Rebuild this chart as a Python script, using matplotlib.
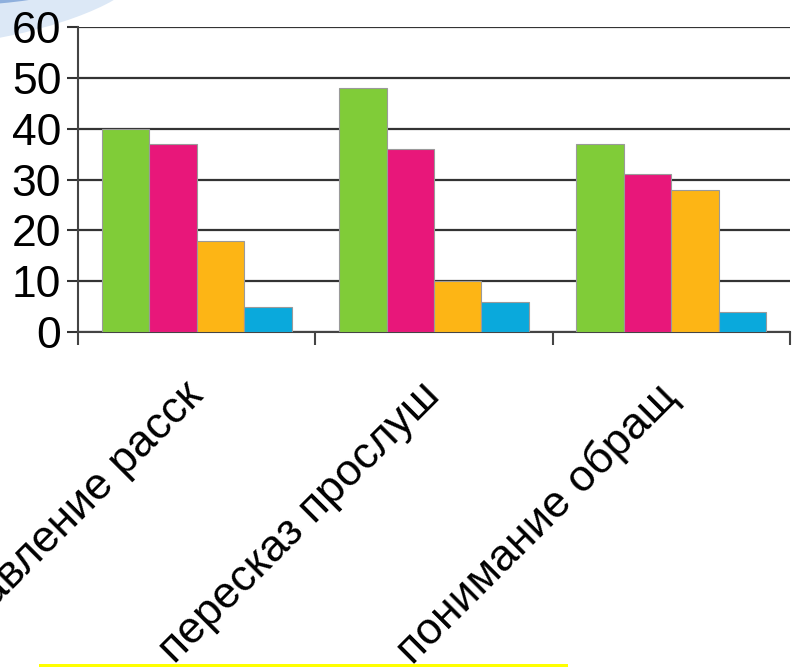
import numpy as np
import matplotlib.pyplot as plt
import matplotlib.transforms as mtransforms
from matplotlib.patches import Rectangle, Ellipse

plt.rcParams['font.family'] = ['Liberation Sans', 'DejaVu Sans']

categories = ['составление расск', 'пересказ прослуш', 'понимание обращ']
series_green = [40, 48, 37]
series_pink = [37, 36, 31]
series_orange = [18, 10, 28]
series_blue = [5, 6, 4]
y_ticks = [0, 10, 20, 30, 40, 50, 60]

colors = ['#80CC38', '#E8177A', '#FDB515', '#0AA9DC']

fig = plt.figure(figsize=(7.92, 6.67), dpi=100)

# pale blue swoosh in the top-left corner (slide decoration), kept behind the axes
fig.patches.append(Ellipse((0.0, 1.0), 0.36, 0.11, angle=14, transform=fig.transFigure,
                           facecolor='#DCE8F6', edgecolor='none', zorder=-2))
fig.patches.append(Ellipse((0.0, 1.01), 0.18, 0.03, angle=6, transform=fig.transFigure,
                           facecolor='#8FB0DD', edgecolor='none', zorder=-1))
# thin yellow strip at the bottom
fig.patches.append(Rectangle((39 / 792, 0), (568 - 39) / 792, 3 / 667, transform=fig.transFigure,
                             facecolor='#FFFF00', edgecolor='none', zorder=-1))

ax = fig.add_axes([78 / 792, (667 - 332) / 667, (790 - 78) / 792, (332 - 27) / 667])
ax.patch.set_alpha(0)

x = np.arange(len(categories))
w = 0.2
all_series = [series_green, series_pink, series_orange, series_blue]
for i, vals in enumerate(all_series):
    ax.bar(x - 0.3 + i * w, vals, width=w, color=colors[i], edgecolor='#9A9A9A',
           linewidth=0.8, zorder=3)

ax.set_xlim(-0.5, 2.5)
ax.set_ylim(0, 60)
ax.set_yticks(y_ticks)
ax.set_yticklabels([str(v) for v in y_ticks], fontsize=32)
ax.yaxis.grid(True, color='#333333', linewidth=1.6, zorder=0)
ax.set_axisbelow(True)

ax.set_xticks([-0.5, 0.5, 1.5, 2.5])
ax.set_xticklabels([])
ax.set_xticks(x, minor=True)
ax.set_xticklabels(categories, minor=True, rotation=45, ha='right', fontsize=32)
ax.tick_params(axis='x', which='minor', length=0, pad=24)
ax.tick_params(axis='x', which='major', length=9, width=1.5, color='#444444', direction='out')
ax.tick_params(axis='y', length=8, width=1.5, color='#333333', pad=4)

# nudge category labels right and down
shift = mtransforms.ScaledTranslation(14 / 100, -10 / 100, fig.dpi_scale_trans)
for lbl in ax.get_xticklabels(minor=True):
    lbl.set_transform(lbl.get_transform() + shift)

for s in ['top', 'right']:
    ax.spines[s].set_visible(False)
ax.spines['left'].set_color('#444444')
ax.spines['left'].set_linewidth(1.5)
ax.spines['bottom'].set_color('#444444')
ax.spines['bottom'].set_linewidth(1.5)

fig.savefig('out.png', dpi=100)
